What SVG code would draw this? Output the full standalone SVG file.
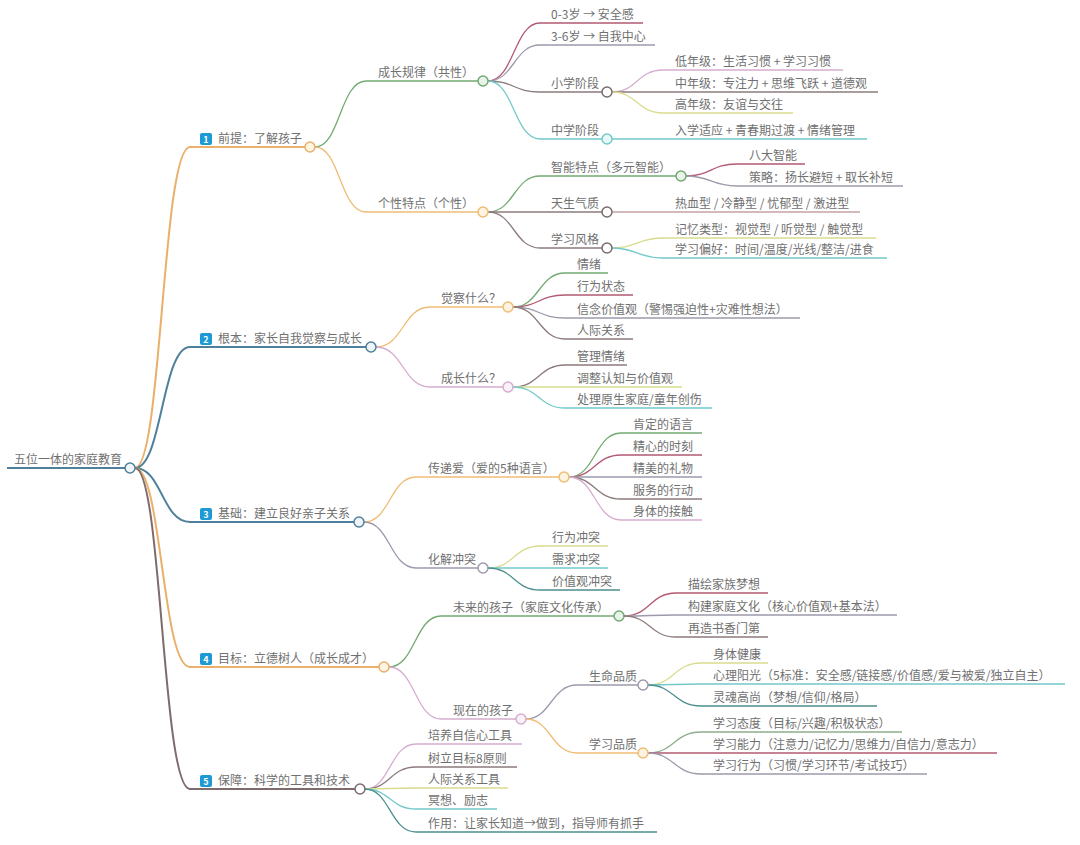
<svg xmlns="http://www.w3.org/2000/svg" width="1080" height="845" viewBox="0 0 1080 845">
<style>
text{font-family:"Noto Sans CJK SC","Noto Sans",sans-serif;font-size:12px;fill:#707070}
.b{fill:#fff;font-size:9px;font-weight:bold;text-anchor:middle}
path{fill:none;stroke-width:1.3}
.l1{stroke-width:2}
.or{stroke:#eab06b}.bl{stroke:#4f809b}.br{stroke:#7e6c6c}.gn{stroke:#72a972}.lv{stroke:#d6add0}.dr{stroke:#b35a72}.gy{stroke:#9c9aab}.bg{stroke:#8b7b7b}.yg{stroke:#d9dc8e}.tl{stroke:#72c9cb}.dt{stroke:#4d8f8f}.pb{stroke:#c6a2a6}.ol{stroke:#f0bc74}.gg{stroke:#8fae8f}
circle{stroke-width:1.5;fill:#fff}
.k-or{stroke:#eab06b;fill:#fdf4e2}.k-bl{stroke:#4f809b;fill:#eef4f7}.k-br{stroke:#7e6c6c}.k-gn{stroke:#72a972;fill:#e9f3e9}.k-lv{stroke:#d6add0;fill:#fbf2f9}.k-gy{stroke:#9c9aab}.k-bg{stroke:#7b6b6b}.k-tl{stroke:#72c9cb;fill:#e9f7f7}.k-ol{stroke:#f0bc74;fill:#fdf3e3}
.badge{fill:#1d9ad6}
</style>
<g id="connectors">
<path class="bl l1" d="M7,468 H125"/>
<path class="or l1" d="M135,468 C162,468 162,147 190,147 H305"/>
<path class="bl l1" d="M135,468 C162,468 162,347 190,347 H366"/>
<path class="bl l1" d="M135,468 C162,468 162,522 190,522 H354"/>
<path class="or l1" d="M135,468 C162,468 162,667 190,667 H379"/>
<path class="br l1" d="M135,468 C162,468 162,789 190,789 H355"/>
<path class="gn" d="M315,147 C340,147 340,81 366,81 H478"/>
<path class="ol" d="M315,147 C340,147 340,212 366,212 H478"/>
<path class="dr" d="M488,81 C514,81 514,23 540,23 H643"/>
<path class="gy" d="M488,81 C514,81 514,45 540,45 H655"/>
<path class="bg" d="M488,81 C514,81 514,92 540,92 H602"/>
<path class="tl" d="M488,81 C514,81 514,139 540,139 H602"/>
<path class="lv" d="M612,92 C637,92 637,70 663,70 H843"/>
<path class="bg" d="M612,92 C637,92 637,92 663,92 H878"/>
<path class="yg" d="M612,92 C637,92 637,113 663,113 H793"/>
<path class="tl" d="M612,139 H867"/>
<path class="gn" d="M488,212 C514,212 514,176 540,176 H676"/>
<path class="bg" d="M488,212 C514,212 514,212 540,212 H602"/>
<path class="bg" d="M488,212 C514,212 514,248 540,248 H602"/>
<path class="dr" d="M686,176 C711,176 711,164 737,164 H805"/>
<path class="gy" d="M686,176 C711,176 711,186 737,186 H903"/>
<path class="pb" d="M612,212 H860"/>
<path class="yg" d="M612,248 C637,248 637,238 663,238 H876"/>
<path class="tl" d="M612,248 C637,248 637,258 663,258 H887"/>
<path class="ol" d="M376,347 C403,347 403,307 430,307 H503"/>
<path class="lv" d="M376,347 C403,347 403,387 430,387 H503"/>
<path class="gn" d="M513,307 C539,307 539,273 565,273 H608"/>
<path class="dr" d="M513,307 C539,307 539,295 565,295 H633"/>
<path class="gy" d="M513,307 C539,307 539,318 565,318 H800"/>
<path class="bg" d="M513,307 C539,307 539,339 565,339 H633"/>
<path class="bg" d="M513,387 C539,387 539,365 565,365 H627"/>
<path class="yg" d="M513,387 C539,387 539,387 565,387 H682"/>
<path class="tl" d="M513,387 C539,387 539,408 565,408 H712"/>
<path class="ol" d="M364,522 C390,522 390,477 416,477 H559"/>
<path class="gy" d="M364,522 C390,522 390,568 416,568 H478"/>
<path class="gn" d="M569,477 C595,477 595,433 621,433 H702"/>
<path class="dr" d="M569,477 C595,477 595,455 621,455 H702"/>
<path class="gy" d="M569,477 C595,477 595,477 621,477 H702"/>
<path class="bg" d="M569,477 C595,477 595,499 621,499 H702"/>
<path class="lv" d="M569,477 C595,477 595,520 621,520 H702"/>
<path class="yg" d="M488,568 C514,568 514,546 540,546 H608"/>
<path class="tl" d="M488,568 C514,568 514,568 540,568 H608"/>
<path class="dt" d="M488,568 C514,568 514,590 540,590 H620"/>
<path class="gn" d="M389,667 C415,667 415,616 441,616 H614"/>
<path class="lv" d="M389,667 C415,667 415,719 441,719 H516"/>
<path class="dr" d="M624,616 C650,616 650,593 676,593 H768"/>
<path class="gy" d="M624,616 C650,616 650,615 676,615 H897"/>
<path class="bg" d="M624,616 C650,616 650,637 676,637 H768"/>
<path class="gy" d="M526,719 C551,719 551,685 577,685 H638"/>
<path class="ol" d="M526,719 C551,719 551,753 577,753 H638"/>
<path class="yg" d="M648,685 C674,685 674,663 701,663 H768"/>
<path class="tl" d="M648,685 C674,685 674,684 701,684 H1065"/>
<path class="dt" d="M648,685 C674,685 674,706 701,706 H877"/>
<path class="gg" d="M648,753 C674,753 674,732 701,732 H902"/>
<path class="dr" d="M648,753 C674,753 674,753 701,753 H997"/>
<path class="gy" d="M648,753 C674,753 674,774 701,774 H927"/>
<path class="lv" d="M365,789 C390,789 390,744 416,744 H522"/>
<path class="bg" d="M365,789 C390,789 390,767 416,767 H517"/>
<path class="yg" d="M365,789 C390,789 390,788 416,788 H508"/>
<path class="tl" d="M365,789 C390,789 390,809 416,809 H497"/>
<path class="dt" d="M365,789 C390,789 390,832 416,832 H657"/>
</g>
<g id="root"><text x="14" y="464">五位一体的家庭教育</text><circle class="k-bl" cx="130" cy="468" r="5"/></g>
<g id="n1"><rect class="badge" x="200" y="133" width="12" height="12" rx="2"/><text class="b" x="206" y="142.5">1</text><text x="218" y="143">前提：了解孩子</text><circle class="k-or" cx="310" cy="147" r="5"/></g>
<g id="n2"><rect class="badge" x="200" y="333" width="12" height="12" rx="2"/><text class="b" x="206" y="342.5">2</text><text x="218" y="343">根本：家长自我觉察与成长</text><circle class="k-bl" cx="371" cy="347" r="5"/></g>
<g id="n3"><rect class="badge" x="200" y="508" width="12" height="12" rx="2"/><text class="b" x="206" y="517.5">3</text><text x="218" y="518">基础：建立良好亲子关系</text><circle class="k-bl" cx="359" cy="522" r="5"/></g>
<g id="n4"><rect class="badge" x="200" y="653" width="12" height="12" rx="2"/><text class="b" x="206" y="662.5">4</text><text x="218" y="663">目标：立德树人（成长成才）</text><circle class="k-or" cx="384" cy="667" r="5"/></g>
<g id="n5"><rect class="badge" x="200" y="775" width="12" height="12" rx="2"/><text class="b" x="206" y="784.5">5</text><text x="218" y="785">保障：科学的工具和技术</text><circle class="k-br" cx="360" cy="789" r="5"/></g>
<g id="n1-1"><text x="378" y="77">成长规律（共性）</text><circle class="k-gn" cx="483" cy="81" r="5"/></g>
<g id="n1-1-1"><text x="551" y="19">0-3岁 → 安全感</text></g>
<g id="n1-1-2"><text x="551" y="41">3-6岁 → 自我中心</text></g>
<g id="n1-1-3"><text x="551" y="88">小学阶段</text><circle class="k-bg" cx="607" cy="92" r="5"/></g>
<g id="n1-1-3-1"><text x="675" y="66">低年级：生活习惯 + 学习习惯</text></g>
<g id="n1-1-3-2"><text x="675" y="88">中年级：专注力 + 思维飞跃 + 道德观</text></g>
<g id="n1-1-3-3"><text x="675" y="109">高年级：友谊与交往</text></g>
<g id="n1-1-4"><text x="551" y="135">中学阶段</text><circle class="k-tl" cx="607" cy="139" r="5"/></g>
<g id="n1-1-4-1"><text x="675" y="135">入学适应 + 青春期过渡 + 情绪管理</text></g>
<g id="n1-2"><text x="378" y="208">个性特点（个性）</text><circle class="k-ol" cx="483" cy="212" r="5"/></g>
<g id="n1-2-1"><text x="551" y="172">智能特点（多元智能）</text><circle class="k-gn" cx="681" cy="176" r="5"/></g>
<g id="n1-2-1-1"><text x="749" y="160">八大智能</text></g>
<g id="n1-2-1-2"><text x="749" y="182">策略：扬长避短 + 取长补短</text></g>
<g id="n1-2-2"><text x="551" y="208">天生气质</text><circle class="k-bg" cx="607" cy="212" r="5"/></g>
<g id="n1-2-2-1"><text x="675" y="208">热血型 / 冷静型 / 忧郁型 / 激进型</text></g>
<g id="n1-2-3"><text x="551" y="244">学习风格</text><circle class="k-bg" cx="607" cy="248" r="5"/></g>
<g id="n1-2-3-1"><text x="675" y="234">记忆类型：视觉型 / 听觉型 / 触觉型</text></g>
<g id="n1-2-3-2"><text x="675" y="254">学习偏好：时间/温度/光线/整洁/进食</text></g>
<g id="n2-1"><text x="441" y="303">觉察什么？</text><circle class="k-ol" cx="508" cy="307" r="5"/></g>
<g id="n2-1-1"><text x="577" y="269">情绪</text></g>
<g id="n2-1-2"><text x="577" y="291">行为状态</text></g>
<g id="n2-1-3"><text x="577" y="314">信念价值观（警惕强迫性+灾难性想法）</text></g>
<g id="n2-1-4"><text x="577" y="335">人际关系</text></g>
<g id="n2-2"><text x="441" y="383">成长什么？</text><circle class="k-lv" cx="508" cy="387" r="5"/></g>
<g id="n2-2-1"><text x="577" y="361">管理情绪</text></g>
<g id="n2-2-2"><text x="577" y="383">调整认知与价值观</text></g>
<g id="n2-2-3"><text x="577" y="404">处理原生家庭/童年创伤</text></g>
<g id="n3-1"><text x="428" y="473">传递爱（爱的5种语言）</text><circle class="k-ol" cx="564" cy="477" r="5"/></g>
<g id="n3-1-1"><text x="633" y="429">肯定的语言</text></g>
<g id="n3-1-2"><text x="633" y="451">精心的时刻</text></g>
<g id="n3-1-3"><text x="633" y="473">精美的礼物</text></g>
<g id="n3-1-4"><text x="633" y="495">服务的行动</text></g>
<g id="n3-1-5"><text x="633" y="516">身体的接触</text></g>
<g id="n3-2"><text x="428" y="564">化解冲突</text><circle class="k-gy" cx="483" cy="568" r="5"/></g>
<g id="n3-2-1"><text x="552" y="542">行为冲突</text></g>
<g id="n3-2-2"><text x="552" y="564">需求冲突</text></g>
<g id="n3-2-3"><text x="552" y="586">价值观冲突</text></g>
<g id="n4-1"><text x="453" y="612">未来的孩子（家庭文化传承）</text><circle class="k-gn" cx="619" cy="616" r="5"/></g>
<g id="n4-1-1"><text x="688" y="589">描绘家族梦想</text></g>
<g id="n4-1-2"><text x="688" y="611">构建家庭文化（核心价值观+基本法）</text></g>
<g id="n4-1-3"><text x="688" y="633">再造书香门第</text></g>
<g id="n4-2"><text x="453" y="715">现在的孩子</text><circle class="k-lv" cx="521" cy="719" r="5"/></g>
<g id="n4-2-1"><text x="589" y="681">生命品质</text><circle class="k-gy" cx="643" cy="685" r="5"/></g>
<g id="n4-2-1-1"><text x="713" y="659">身体健康</text></g>
<g id="n4-2-1-2"><text x="713" y="680">心理阳光（5标准：安全感/链接感/价值感/爱与被爱/独立自主）</text></g>
<g id="n4-2-1-3"><text x="713" y="702">灵魂高尚（梦想/信仰/格局）</text></g>
<g id="n4-2-2"><text x="589" y="749">学习品质</text><circle class="k-ol" cx="643" cy="753" r="5"/></g>
<g id="n4-2-2-1"><text x="713" y="728">学习态度（目标/兴趣/积极状态）</text></g>
<g id="n4-2-2-2"><text x="713" y="749">学习能力（注意力/记忆力/思维力/自信力/意志力）</text></g>
<g id="n4-2-2-3"><text x="713" y="770">学习行为（习惯/学习环节/考试技巧）</text></g>
<g id="n5-1"><text x="428" y="740">培养自信心工具</text></g>
<g id="n5-2"><text x="428" y="763">树立目标8原则</text></g>
<g id="n5-3"><text x="428" y="784">人际关系工具</text></g>
<g id="n5-4"><text x="428" y="805">冥想、励志</text></g>
<g id="n5-5"><text x="428" y="828">作用：让家长知道→做到，指导师有抓手</text></g>
</svg>
